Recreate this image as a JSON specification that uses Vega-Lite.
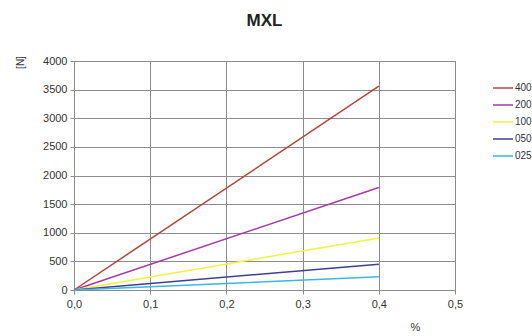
{
  "$schema": "https://vega.github.io/schema/vega-lite/v6.json",
  "width": 381,
  "height": 229,
  "autosize": "none",
  "padding": {"left": 74, "top": 61, "right": 77, "bottom": 46},
  "background": "white",
  "title": {"text": "MXL", "fontSize": 17, "fontWeight": "bold", "font": "Liberation Sans", "color": "#222", "anchor": "middle", "offset": 25},
  "data": {"values": [
    {"series": "400", "x": 0, "y": 0}, {"series": "400", "x": 0.4, "y": 3560},
    {"series": "200", "x": 0, "y": 0}, {"series": "200", "x": 0.4, "y": 1790},
    {"series": "100", "x": 0, "y": 0}, {"series": "100", "x": 0.4, "y": 910},
    {"series": "050", "x": 0, "y": 0}, {"series": "050", "x": 0.4, "y": 450},
    {"series": "025", "x": 0, "y": 0}, {"series": "025", "x": 0.4, "y": 230}
  ]},
  "mark": {"type": "line", "strokeWidth": 1.5},
  "encoding": {
    "x": {"field": "x", "type": "quantitative", "scale": {"domain": [0, 0.5], "nice": false},
      "axis": {"values": [0, 0.1, 0.2, 0.3, 0.4, 0.5], "labelExpr": "replace(format(datum.value, '.1f'), '.', ',')", "labelFlush": false, "title": "%", "titleX": 341, "titleY": 37, "titleAlign": "center", "titleBaseline": "middle", "titleFontWeight": "normal", "titleFontSize": 11, "grid": true, "gridColor": "#8c8c8c", "gridOpacity": 1, "domainColor": "#8c8c8c", "tickColor": "#8c8c8c", "tickSize": 4, "labelFontSize": 11, "labelColor": "#333", "titleColor": "#333", "labelFont": "Liberation Sans", "titleFont": "Liberation Sans", "labelPadding": 4}},
    "y": {"field": "y", "type": "quantitative", "scale": {"domain": [0, 4000], "nice": false},
      "axis": {"values": [0, 500, 1000, 1500, 2000, 2500, 3000, 3500, 4000], "format": "d", "title": "[N]", "titleAngle": -90, "titleX": -54, "titleY": 1, "titleAlign": "center", "titleBaseline": "middle", "titleFontWeight": "normal", "titleFontSize": 10, "grid": true, "gridColor": "#8c8c8c", "gridOpacity": 1, "domainColor": "#8c8c8c", "tickColor": "#8c8c8c", "tickSize": 4, "labelFontSize": 11, "labelColor": "#333", "titleColor": "#333", "labelFont": "Liberation Sans", "titleFont": "Liberation Sans", "labelPadding": 3, "labelFlush": false}},
    "color": {"field": "series", "type": "nominal", "sort": ["400", "200", "100", "050", "025"],
      "scale": {"domain": ["400", "200", "100", "050", "025"], "range": ["#b8423c", "#a33aa6", "#f2f23c", "#3f3f8f", "#3db5e6"]},
      "legend": {"title": null, "orient": "none", "legendX": 418, "legendY": 16, "symbolType": "stroke", "symbolSize": 400, "symbolStrokeWidth": 1.5, "labelFontSize": 10, "labelColor": "#333", "labelFont": "Liberation Sans", "labelOffset": 1, "rowPadding": 1, "padding": 0}}
  },
  "config": {"view": {"stroke": "#8c8c8c"}}
}
